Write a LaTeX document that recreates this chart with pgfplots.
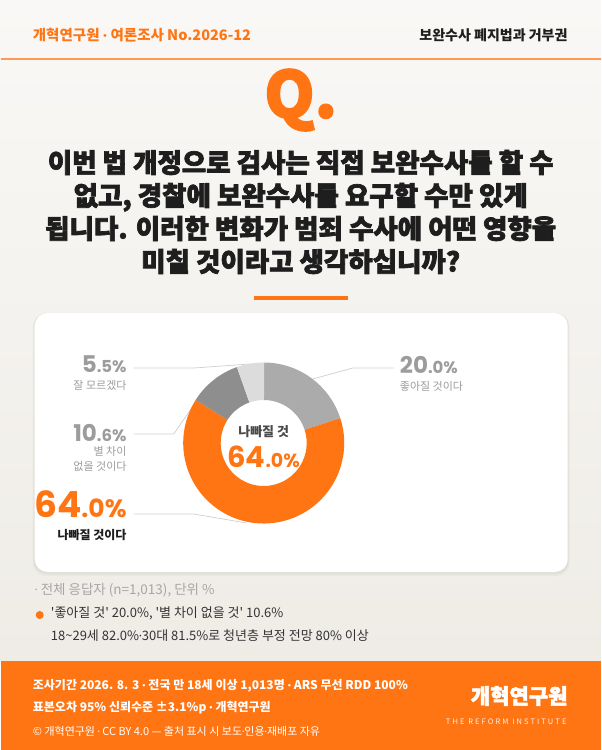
\documentclass[border=0pt]{standalone}
\usepackage{pgfplots}
\pgfplotsset{compat=1.18}
\usepackage{pgfplotstable}
\usepackage{fontspec}
\setmainfont{Noto Sans CJK KR}
\newfontfamily\heavy{Noto Sans CJK KR}[BoldFeatures={FakeBold=2.6}]
\newfontfamily\num{Poppins}
\newfontfamily\spaced{Noto Sans CJK KR}[LetterSpace=28]
\newcommand\md{{\num ·}}
\definecolor{orng}{HTML}{FF7513}
\definecolor{orngl}{HTML}{FF9A55}
\definecolor{bgtop}{HTML}{F9F8F6}
\definecolor{bgbot}{HTML}{EFECE6}
\definecolor{cgood}{HTML}{ABABAB}
\definecolor{cneut}{HTML}{8E8E8E}
\definecolor{cdk}{HTML}{DCDCDC}
\definecolor{labg}{HTML}{9C9C9C}
\definecolor{notg}{HTML}{A6A6A6}
\definecolor{dark}{HTML}{1E1E1E}
\definecolor{txt}{HTML}{333333}
\definecolor{ctr}{HTML}{4A4A4A}
\definecolor{leader}{HTML}{CFCFCF}

\pgfplotstableread{
value segcolor
20.0 cgood
64.0 orng
10.6 cneut
5.5 cdk
}\piedata

\begin{document}
\begin{tikzpicture}[x=1pt,y=-1pt]
% background
\shade[top color=bgtop, bottom color=bgbot] (0,0) rectangle (600,661);
\fill[orng] (0,661) rectangle (600,750);
% header
\node[anchor=west, inner sep=0, text=orng, font=\fontsize{14.5}{16}\selectfont\bfseries] at (32,35) {개혁연구원 \md{} 여론조사 No.2026-12};
\node[anchor=east, inner sep=0, text=dark, font=\fontsize{14}{16}\selectfont\bfseries] at (567,35) {보완수사 폐지법과 거부권};
\draw[orngl, line width=1.4pt] (0,59) -- (600,59);
% Q.
\node[inner sep=0, text=orng, font=\heavy\bfseries\fontsize{64}{66}\selectfont] at (300,100) {Q.};
% question
\node[inner sep=0, align=center, text=dark, font=\heavy\bfseries\fontsize{26.5}{33}\selectfont] at (300,212)
 {이번 법 개정으로 검사는 직접 보완수사를 할 수\\없고, 경찰에 보완수사를 요구할 수만 있게\\됩니다. 이러한 변화가 범죄 수사에 어떤 영향을\\미칠 것이라고 생각하십니까?};
\fill[orng] (253,296) rectangle (347,300);
% card
\fill[black, opacity=0.03, rounded corners=14pt] (32,313) rectangle (569,576);
\fill[black, opacity=0.03, rounded corners=13pt] (33,313) rectangle (568,574);
\fill[white, rounded corners=13pt] (34,313) rectangle (567,572);
% leader lines
\draw[leader, line width=0.7pt] (312,379) -- (352,368) -- (393,368);
\draw[leader, line width=0.7pt] (249,364) -- (193,368) -- (133,368);
\draw[leader, line width=0.7pt] (198,398) -- (173,434) -- (133,434);
\draw[leader, line width=0.7pt] (246,523) -- (193,514) -- (133,514);
% donut
\begin{axis}[at={(263pt,-443pt)}, anchor=center, width=161pt, height=161pt, scale only axis,
  hide axis, xmin=-1, xmax=1, ymin=-1, ymax=1, clip=false]
\pgfplotstablegetrowsof{\piedata}
\pgfmathtruncatemacro\lastrow{\pgfplotsretval-1}
\gdef\cum{0}
\pgfplotsforeachungrouped \i in {0,...,\lastrow}{%
  \pgfplotstablegetelem{\i}{value}\of\piedata \let\sV=\pgfplotsretval
  \pgfplotstablegetelem{\i}{segcolor}\of\piedata \let\sC=\pgfplotsretval
  \pgfmathsetmacro\sA{90-3.6*\cum}
  \pgfmathsetmacro\sB{90-3.6*(\cum+\sV)}
  \edef\temp{\noexpand\fill[\sC] (axis cs:0,0) ++(\sA:80.5pt) arc[start angle=\sA, end angle=\sB, radius=80.5pt] -- ++({\sB+180}:37.5pt) arc[start angle=\sB, end angle=\sA, radius=43pt] -- cycle;}%
  \temp
  \pgfmathsetmacro\cum{\cum+\sV}%
}
\end{axis}
% center text
\node[inner sep=0, text=ctr, font=\fontsize{13}{15}\selectfont\bfseries] at (263,432) {나빠질 것};
\node[inner sep=0, anchor=base, text=orng, text depth=0pt] at (263,467) {\num\bfseries\fontsize{29}{30}\selectfont 64\fontsize{19}{20}\selectfont.0\%};
% labels left
\node[inner sep=0, anchor=base east, text=labg, text depth=0pt] at (126,372) {\num\bfseries\fontsize{23}{24}\selectfont 5\fontsize{16.5}{18}\selectfont.5\%};
\node[inner sep=0, anchor=east, text=labg, font=\fontsize{11}{13}\selectfont] at (126,385) {잘 모르겠다};
\node[inner sep=0, anchor=base east, text=labg, text depth=0pt] at (126,441) {\num\bfseries\fontsize{23}{24}\selectfont 10\fontsize{16.5}{18}\selectfont.6\%};
\node[inner sep=0, anchor=north east, align=right, text=labg, font=\fontsize{11}{15}\selectfont] at (126,446) {별 차이\\없을 것이다};
\node[inner sep=0, anchor=base east, text=orng, text depth=0pt] at (126,517) {\num\bfseries\fontsize{36}{40}\selectfont 64\fontsize{25}{28}\selectfont.0\%};
\node[inner sep=0, anchor=east, text=dark, font=\fontsize{12}{14}\selectfont\bfseries] at (126,535) {나빠질 것이다};
% label right
\node[inner sep=0, anchor=base west, text=labg, text depth=0pt] at (399,373) {\num\bfseries\fontsize{23}{24}\selectfont 20\fontsize{16.5}{18}\selectfont.0\%};
\node[inner sep=0, anchor=west, text=labg, font=\fontsize{11}{13}\selectfont] at (399,386) {좋아질 것이다};
% notes
\node[inner sep=0, anchor=west, text=notg, font=\fontsize{13.5}{15}\selectfont] at (34,590) {\md{} 전체 응답자 (n=1,013), 단위 \%};
\fill[orng] (39,615) circle (4pt);
\node[inner sep=0, anchor=west, text=txt, font=\fontsize{13}{15}\selectfont] at (50,613) {\textquotesingle 좋아질 것\textquotesingle{} 20.0\%, \textquotesingle 별 차이 없을 것\textquotesingle{} 10.6\%};
\node[inner sep=0, anchor=west, text=txt, font=\fontsize{13}{15}\selectfont] at (50,636) {18\textasciitilde 29세 82.0\%\md{}30대 81.5\%로 청년층 부정 전망 80\% 이상};
% footer
\node[inner sep=0, anchor=west, text=white, font=\fontsize{12}{14}\selectfont\bfseries] at (32,686) {조사기간 2026. 8. 3 \md{} 전국 만 18세 이상 1,013명 \md{} ARS 무선 RDD 100\%};
\node[inner sep=0, anchor=west, text=white, font=\fontsize{12}{14}\selectfont\bfseries] at (32,708) {표본오차 95\% 신뢰수준 ±3.1\%p \md{} 개혁연구원};
\node[inner sep=0, anchor=west, text=white, font=\fontsize{11}{13}\selectfont] at (32,731) {© 개혁연구원 \md{} CC BY 4.0 — 출처 표시 시 보도\md{}인용\md{}재배포 자유};
\node[inner sep=0, anchor=east, text=white, font=\heavy\bfseries\fontsize{21}{23}\selectfont] at (567,696) {개혁연구원};
\node[inner sep=0, anchor=east, text=white!90!orng, font=\spaced\fontsize{7.5}{9}\selectfont] at (566,722) {THE REFORM INSTITUTE};
\end{tikzpicture}
\end{document}
